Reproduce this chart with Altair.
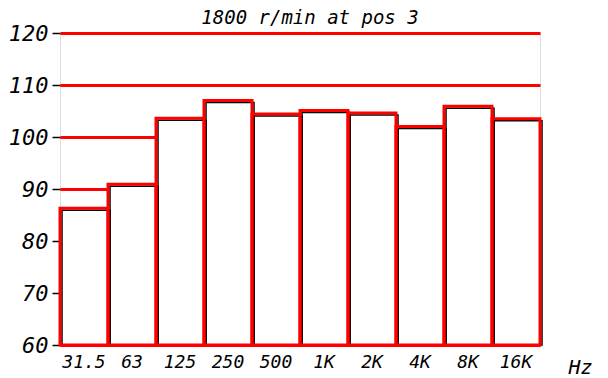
import altair as alt
import pandas as pd

bands = ["31.5", "63", "125", "250", "500", "1K", "2K", "4K", "8K", "16K"]
levels = [86.3, 90.9, 103.6, 107.0, 104.4, 105.1, 104.6, 102.0, 105.9, 103.5]
y_ticks = [60, 70, 80, 90, 100, 110, 120]

df = pd.DataFrame({"band": bands, "level": levels})

FONT = "DejaVu Sans Mono"
RED = "#ff0000"

x = alt.X("band:N", sort=bands,
          scale=alt.Scale(paddingInner=0, paddingOuter=0),
          axis=alt.Axis(title="Hz", labelAngle=0, ticks=False, domain=False,
                        labelFont=FONT, labelFontStyle="italic", labelFontSize=18,
                        labelColor="black", labelPadding=8,
                        titleFont=FONT, titleFontStyle="italic", titleFontSize=20,
                        titleFontWeight="normal", titleColor="black",
                        titleX=508, titleY=22, titleAlign="left", titleBaseline="middle"))
y = alt.Y("level:Q",
          scale=alt.Scale(domain=[60, 120], nice=False, zero=False),
          axis=alt.Axis(title=None, values=y_ticks, domain=False,
                        tickColor="black", tickSize=8, tickWidth=1.5,
                        labelFont=FONT, labelFontStyle="italic", labelFontSize=22,
                        labelColor="black", labelPadding=4,
                        grid=True, gridColor=RED, gridWidth=3, gridOpacity=1))

base = alt.Chart(df)
fill = base.mark_bar(fill="white", strokeWidth=0).encode(x=x, y=y, y2=alt.datum(60))
shadow = base.mark_bar(fillOpacity=0, stroke="black", strokeWidth=1.5,
                       xOffset=2, yOffset=2).encode(x=x, y=y, y2=alt.datum(60))
outline = base.mark_bar(fillOpacity=0, stroke=RED, strokeWidth=3).encode(
    x=x, y=y, y2=alt.datum(60))

chart = alt.layer(fill, shadow, outline).properties(
    width=480, height=312,
    title=alt.TitleParams("1800 r/min at pos 3", font=FONT, fontStyle="italic",
                          fontSize=19, fontWeight="normal", color="black",
                          anchor="middle", dx=10, dy=6, offset=0),
    autosize=alt.AutoSizeParams(type="none"),
    padding={"left": 52, "top": 25, "right": 60, "bottom": 33},
).configure_view(stroke=RED, strokeWidth=3).configure(background="white")

chart.save("out.html", embed_options={"renderer": "svg", "actions": False})
